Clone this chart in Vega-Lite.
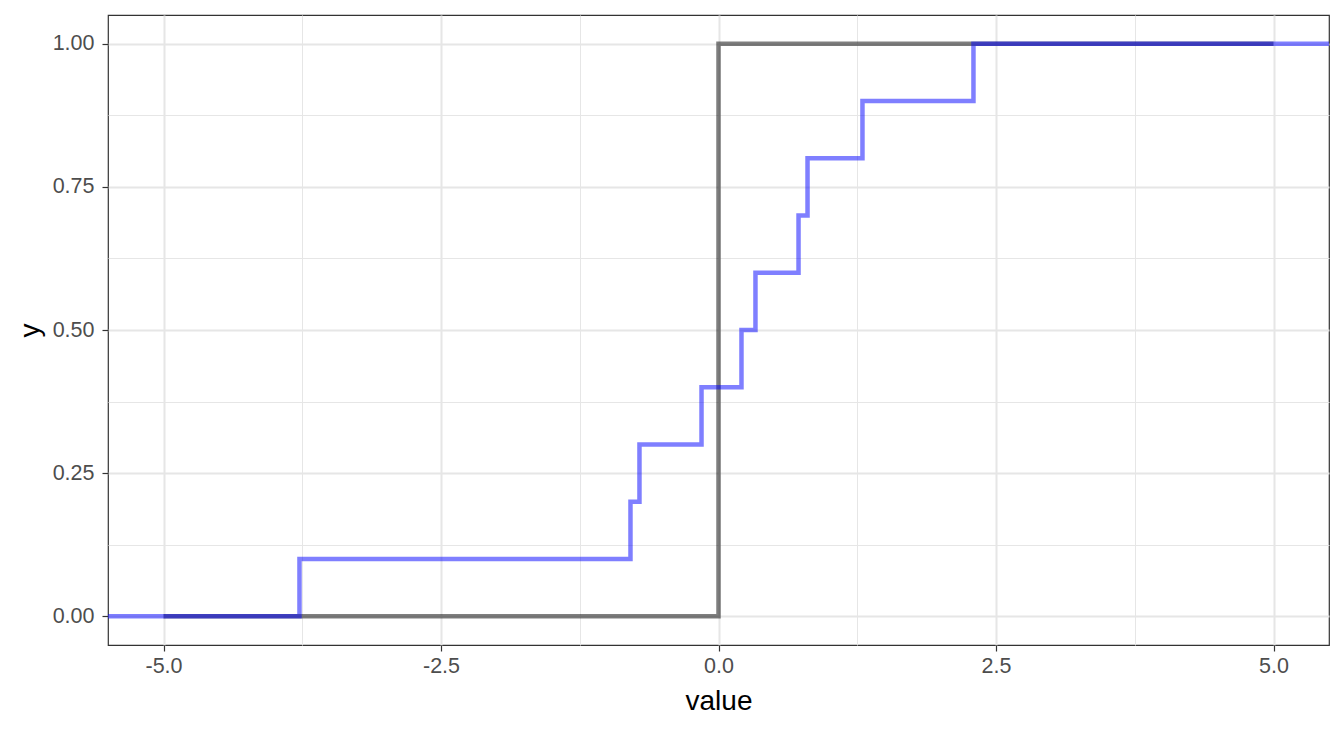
{
  "$schema": "https://vega.github.io/schema/vega-lite/v6.json",
  "autosize": {"type": "none"},
  "width": 1221,
  "height": 630,
  "padding": {"left": 108, "top": 15, "right": 15, "bottom": 84},
  "background": "white",
  "config": {
    "view": {"stroke": "#333333", "strokeWidth": 1.2},
    "font": "Liberation Sans",
    "axis": {
      "domain": false,
      "labelColor": "#4d4d4d",
      "labelFontSize": 21.5,
      "labelFont": "Liberation Sans",
      "titleFont": "Liberation Sans",
      "titleFontSize": 28,
      "titleFontWeight": "normal",
      "titleColor": "black",
      "tickColor": "#333333",
      "tickWidth": 1.2,
      "tickSize": 6,
      "gridColor": "#e6e6e6"
    }
  },
  "datasets": {
    "cdf": [
      {"value": -5, "y": 0},
      {"value": 0, "y": 1},
      {"value": 5, "y": 1}
    ],
    "ecdf": [
      {"value": -5.5, "y": 0},
      {"value": -3.775, "y": 0.1},
      {"value": -0.793, "y": 0.2},
      {"value": -0.712, "y": 0.3},
      {"value": -0.153, "y": 0.4},
      {"value": 0.207, "y": 0.5},
      {"value": 0.333, "y": 0.6},
      {"value": 0.721, "y": 0.7},
      {"value": 0.802, "y": 0.8},
      {"value": 1.297, "y": 0.9},
      {"value": 2.297, "y": 1.0},
      {"value": 5.5, "y": 1.0}
    ]
  },
  "encoding": {
    "x": {
      "field": "value", "type": "quantitative",
      "scale": {"domain": [-5.5, 5.5], "nice": false, "zero": false},
      "axis": {
        "title": "value",
        "titlePadding": 11,
        "labelPadding": 4,
        "values": [-5, -3.75, -2.5, -1.25, 0, 1.25, 2.5, 3.75, 5],
        "labelExpr": "abs(datum.value % 2.5) > 0.01 ? '' : replace(format(datum.value, '.1f'), '\u2212', '-')",
        "gridWidth": {"condition": {"test": "abs(datum.value % 2.5) > 0.01", "value": 1}, "value": 2},
        "tickOpacity": {"condition": {"test": "abs(datum.value % 2.5) > 0.01", "value": 0}, "value": 1}
      }
    },
    "y": {
      "field": "y", "type": "quantitative",
      "scale": {"domain": [-0.05, 1.05], "nice": false, "zero": false},
      "axis": {
        "title": "y",
        "titlePadding": 8,
        "labelPadding": 8,
        "values": [0, 0.125, 0.25, 0.375, 0.5, 0.625, 0.75, 0.875, 1],
        "labelExpr": "abs(datum.value % 0.25) > 0.01 ? '' : format(datum.value, '.2f')",
        "gridWidth": {"condition": {"test": "abs(datum.value % 0.25) > 0.01", "value": 1}, "value": 2},
        "tickOpacity": {"condition": {"test": "abs(datum.value % 0.25) > 0.01", "value": 0}, "value": 1}
      }
    }
  },
  "layer": [
    {
      "data": {"name": "cdf"},
      "mark": {"type": "line", "interpolate": "step-after", "color": "black", "opacity": 0.5, "strokeWidth": 4.5, "clip": true}
    },
    {
      "data": {"name": "ecdf"},
      "mark": {"type": "line", "interpolate": "step-after", "color": "#0000ff", "opacity": 0.5, "strokeWidth": 4.5, "clip": true}
    }
  ]
}
